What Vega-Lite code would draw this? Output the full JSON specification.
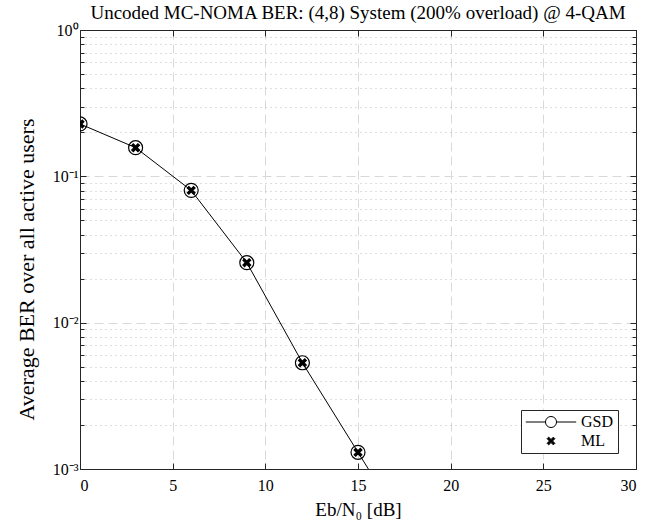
{
  "$schema": "https://vega.github.io/schema/vega-lite/v6.json",
  "width": 556,
  "height": 439,
  "autosize": "none",
  "padding": {"left": 80, "top": 30, "right": 36, "bottom": 54},
  "config": {
    "font": "Liberation Serif",
    "view": {"stroke": "#262626", "strokeWidth": 1}
  },
  "title": {
    "text": "Uncoded MC-NOMA BER: (4,8) System (200% overload) @ 4-QAM",
    "fontSize": 19,
    "fontWeight": "normal",
    "color": "black",
    "offset": 6,
    "dy": 7,
    "anchor": "middle"
  },
  "data": {
    "values": [
      {"snr": 0, "ber": 0.228, "method": "GSD"},
      {"snr": 3, "ber": 0.157, "method": "GSD"},
      {"snr": 6, "ber": 0.0802, "method": "GSD"},
      {"snr": 9, "ber": 0.0257, "method": "GSD"},
      {"snr": 12, "ber": 0.00532, "method": "GSD"},
      {"snr": 15, "ber": 0.0013, "method": "GSD"},
      {"snr": 18, "ber": 0.00032, "method": "GSD"},
      {"snr": 0, "ber": 0.228, "method": "ML"},
      {"snr": 3, "ber": 0.157, "method": "ML"},
      {"snr": 6, "ber": 0.0802, "method": "ML"},
      {"snr": 9, "ber": 0.0257, "method": "ML"},
      {"snr": 12, "ber": 0.00532, "method": "ML"},
      {"snr": 15, "ber": 0.0013, "method": "ML"},
      {"snr": 18, "ber": 0.00032, "method": "ML"}
    ]
  },
  "resolve": {
    "scale": {"shape": "independent", "fill": "independent", "size": "independent"},
    "axis": {"x": "independent", "y": "independent"}
  },
  "layer": [
    {
      "mark": {"type": "line", "color": "black", "strokeWidth": 1, "clip": true},
      "transform": [{"filter": "datum.method === 'GSD'"}],
      "encoding": {
        "x": {
          "field": "snr", "type": "quantitative",
          "scale": {"domain": [0, 30], "nice": false},
          "axis": {
            "title": "Eb/N₀ [dB]",
            "titleFontSize": 19, "titleFontWeight": "normal", "titleColor": "black", "titlePadding": 7,
            "values": [0, 5, 10, 15, 20, 25, 30],
            "labelFontSize": 16, "labelColor": "black", "labelPadding": 14,
            "tickSize": -6, "tickColor": "#262626", "domainColor": "#262626",
            "grid": true, "gridColor": "#d9d9d9", "gridDash": [9, 5], "gridWidth": 1
          }
        },
        "y": {
          "field": "ber", "type": "quantitative",
          "scale": {"type": "log", "domain": [0.001, 1], "nice": false},
          "axis": {
            "title": "Average BER over all active users",
            "titleFontSize": 22, "titleFontWeight": "normal", "titleColor": "black",
            "titleX": -54, "titleY": 239, "titleAngle": 270, "titleAlign": "center", "titleBaseline": "middle",
            "values": [0.001, 0.002, 0.003, 0.004, 0.005, 0.006, 0.007, 0.008, 0.009, 0.01, 0.02, 0.03, 0.04, 0.05, 0.06, 0.07, 0.08, 0.09, 0.1, 0.2, 0.3, 0.4, 0.5, 0.6, 0.7, 0.8, 0.9, 1],
            "labelExpr": "datum.value == 1 ? '10⁰' : datum.value == 0.1 ? '10⁻¹' : datum.value == 0.01 ? '10⁻²' : datum.value == 0.001 ? '10⁻³' : ''",
            "labelOverlap": false,
            "labelFontSize": 16, "labelColor": "black", "labelPadding": 8,
            "tickSize": {"condition": {"test": "datum.value == 1 || datum.value == 0.1 || datum.value == 0.01 || datum.value == 0.001", "value": -6}, "value": -4},
            "tickColor": "#262626", "domainColor": "#262626",
            "grid": true,
            "gridColor": {"condition": {"test": "datum.value == 1 || datum.value == 0.1 || datum.value == 0.01 || datum.value == 0.001", "value": "#d9d9d9"}, "value": "#bdbdbd"},
            "gridDash": {"condition": {"test": "datum.value == 1 || datum.value == 0.1 || datum.value == 0.01 || datum.value == 0.001", "value": [9, 5]}, "value": [1, 4]}
          }
        }
      }
    },
    {
      "mark": {"type": "point", "clip": true, "filled": true, "stroke": "black", "strokeWidth": 1.2, "opacity": 1},
      "encoding": {
        "x": {
          "field": "snr", "type": "quantitative",
          "scale": {"domain": [0, 30], "nice": false},
          "axis": {"orient": "top", "title": null, "labels": false, "values": [0, 5, 10, 15, 20, 25, 30], "tickSize": -6, "tickColor": "#262626", "domainColor": "#262626", "grid": false}
        },
        "y": {
          "field": "ber", "type": "quantitative",
          "scale": {"type": "log", "domain": [0.001, 1], "nice": false},
          "axis": {
            "orient": "right", "title": null, "labels": false, "grid": false,
            "values": [0.001, 0.002, 0.003, 0.004, 0.005, 0.006, 0.007, 0.008, 0.009, 0.01, 0.02, 0.03, 0.04, 0.05, 0.06, 0.07, 0.08, 0.09, 0.1, 0.2, 0.3, 0.4, 0.5, 0.6, 0.7, 0.8, 0.9, 1],
            "tickSize": {"condition": {"test": "datum.value == 1 || datum.value == 0.1 || datum.value == 0.01 || datum.value == 0.001", "value": -6}, "value": -4},
            "tickColor": "#262626", "domainColor": "#262626"
          }
        },
        "shape": {
          "field": "method", "type": "nominal",
          "scale": {"domain": ["GSD", "ML"], "range": ["circle", "M-1,-0.6L-0.6,-1L0,-0.4L0.6,-1L1,-0.6L0.4,0L1,0.6L0.6,1L0,0.4L-0.6,1L-1,0.6L-0.4,0Z"]},
          "legend": null
        },
        "fill": {
          "field": "method", "type": "nominal",
          "scale": {"domain": ["GSD", "ML"], "range": ["transparent", "black"]},
          "legend": null
        },
        "size": {
          "field": "method", "type": "nominal",
          "scale": {"domain": ["GSD", "ML"], "range": [196, 60]},
          "legend": null
        }
      }
    },
    {
      "mark": {"type": "point", "filled": true, "stroke": "black", "strokeWidth": 1, "opacity": 1},
      "transform": [{"filter": "false"}],
      "encoding": {
        "x": {"field": "snr", "type": "quantitative", "scale": {"domain": [0, 30], "nice": false}, "axis": null},
        "y": {"field": "ber", "type": "quantitative", "scale": {"type": "log", "domain": [0.001, 1], "nice": false}, "axis": null},
        "shape": {
          "field": "method", "type": "nominal",
          "scale": {"domain": ["GSD", "ML"], "range": ["M-3.6,0L-0.79,0M0.79,0L3.6,0M-0.79,0A0.79,0.79,0,1,0,0.79,0A0.79,0.79,0,1,0,-0.79,0", "M-1,-0.6L-0.6,-1L0,-0.4L0.6,-1L1,-0.6L0.4,0L1,0.6L0.6,1L0,0.4L-0.6,1L-1,0.6L-0.4,0Z"]},
          "legend": {
            "title": null,
            "orient": "none",
            "legendX": 441,
            "legendY": 380,
            "strokeColor": "#262626",
            "fillColor": "white",
            "padding": 4,
            "symbolOffset": 18,
            "labelOffset": 22,
            "labelFontSize": 16,
            "labelColor": "black",
            "labelFont": "Liberation Serif",
            "symbolStrokeColor": "black",
            "symbolStrokeWidth": 1,
            "rowPadding": 3
          }
        },
        "fill": {
          "field": "method", "type": "nominal",
          "scale": {"domain": ["GSD", "ML"], "range": ["transparent", "black"]}
        },
        "size": {
          "field": "method", "type": "nominal",
          "scale": {"domain": ["GSD", "ML"], "range": [196, 60]}
        }
      }
    }
  ]
}
